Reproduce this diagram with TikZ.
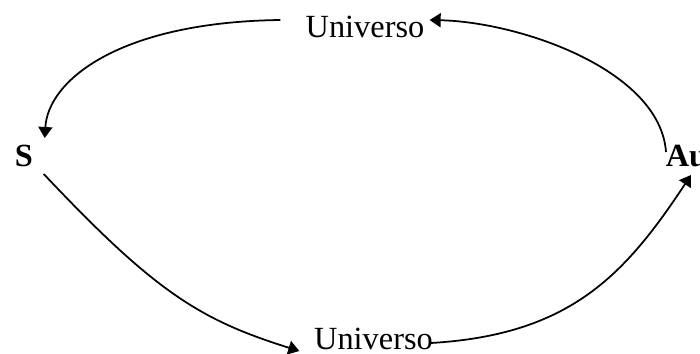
\documentclass[tikz,border=0pt]{standalone}
\usepackage{fontspec}
\setmainfont{Liberation Serif}
\usetikzlibrary{arrows.meta, positioning, calc}
\tikzset{
  every picture/.style={line width=1pt},
  word/.style={inner sep=0pt, font=\fontsize{18.4}{22}\selectfont},
  letter/.style={inner sep=0pt, font=\fontsize{18.4}{22}\selectfont\bfseries},
  arrow/.style={-{Triangle[length=2.2mm, width=2.8mm]}},
}
\begin{document}
\begin{tikzpicture}
  \useasboundingbox (0,0) rectangle (14,7.06);
  % the two Universo labels
  \node[word, anchor=base] (utop) at (7.30,6.32) {Universo};
  \node[word, anchor=base] (ubot) at (7.47,0.08) {Universo};
  % S on the left, Au on the right (cut by the border)
  \node[letter, anchor=base west] (s) at (0.28,3.74) {S};
  \node[letter, anchor=base west] (au) at (13.30,3.74) {Au};
  % the cycle
  \draw[arrow] ([shift={(-0.49,0.34)}]utop.base west) .. controls (2.4,6.62) and (0.96,5.46) .. ([shift={(0.22,0.56)}]s.base east);
  \draw[arrow] ([shift={(0.20,-0.16)}]s.base east) .. controls (3.10,1.22) and (4.00,0.66) .. ([shift={(-0.28,-0.04)}]ubot.base west);
  \draw[arrow] ([shift={(-0.06,0.12)}]ubot.base east) .. controls (11.40,0.36) and (12.50,1.56) .. ([shift={(0.52,-0.18)}]au.base west);
  \draw[arrow] ([shift={(0.02,0.28)}]au.base west) .. controls (13.20,5.66) and (10.40,6.62) .. ([shift={(0.09,0.34)}]utop.base east);
\end{tikzpicture}
\end{document}
